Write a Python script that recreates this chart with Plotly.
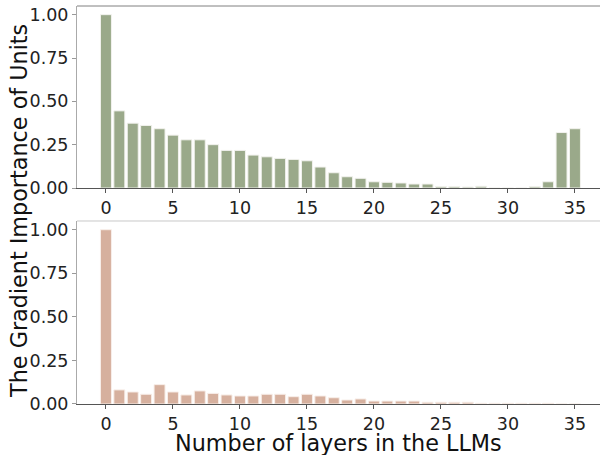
import plotly.graph_objects as go
from plotly.subplots import make_subplots

layers = list(range(36))
top_values = [1.0, 0.445, 0.374, 0.361, 0.342, 0.305, 0.278, 0.278, 0.25, 0.217,
              0.217, 0.19, 0.18, 0.171, 0.165, 0.157, 0.121, 0.088, 0.065, 0.056,
              0.036, 0.033, 0.029, 0.023, 0.023, 0.008, 0.008, 0.006, 0.01, 0.0,
              0.0, 0.0, 0.008, 0.036, 0.32, 0.342]
bottom_values = [1.0, 0.081, 0.069, 0.056, 0.111, 0.069, 0.052, 0.075, 0.061, 0.052,
                 0.046, 0.046, 0.056, 0.056, 0.042, 0.056, 0.046, 0.036, 0.023, 0.029,
                 0.017, 0.017, 0.017, 0.017, 0.01, 0.01, 0.01, 0.01, 0.004, 0.004,
                 0.004, 0.004, 0.004, 0.004, 0.0, 0.0]
y_ticks = [0, 0.25, 0.5, 0.75, 1.0]
y_ticklabels = ["0.00", "0.25", "0.50", "0.75", "1.00"]
x_ticks = [0, 5, 10, 15, 20, 25, 30, 35]

green = "#9aa98a"
pink = "#d6b09e"
font = "DejaVu Sans"

fig = make_subplots(rows=2, cols=1, vertical_spacing=0.08)
fig.add_trace(go.Bar(x=layers, y=top_values, marker=dict(color=green, line=dict(color="#f2f2ee", width=1)),
                     width=0.82, showlegend=False), row=1, col=1)
fig.add_trace(go.Bar(x=layers, y=bottom_values, marker=dict(color=pink, line=dict(color="#f8efea", width=1)),
                     width=0.82, showlegend=False), row=2, col=1)

axis_x = dict(range=[-2.16, 36.87], tickvals=x_ticks, ticks="outside", ticklen=4, tickcolor="#555",
              showgrid=False, zeroline=False, showline=True, linecolor="#555", linewidth=1,
              tickfont=dict(family=font, size=17.5, color="#222"))
axis_y = dict(range=[0, 1.05], tickvals=y_ticks, ticktext=y_ticklabels, ticks="outside", ticklen=4,
              tickcolor="#999", showgrid=False, zeroline=False, showline=True, linecolor="#aaa",
              linewidth=1, tickfont=dict(family=font, size=17.5, color="#222"))

fig.update_layout(
    width=600, height=455,
    margin=dict(l=77, r=0, t=6, b=51),
    paper_bgcolor="white", plot_bgcolor="white",
    bargap=0.18,
    xaxis=dict(axis_x, domain=[0, 1]),
    xaxis2=dict(axis_x, domain=[0, 1]),
    yaxis=dict(axis_y, domain=[0.5427, 1.0]),
    yaxis2=dict(axis_y, domain=[0.0, 0.4598]),
    shapes=[
        dict(type="line", xref="x domain", yref="y domain", x0=0, x1=1, y0=1, y1=1,
             line=dict(color="#808080", width=1)),
        dict(type="line", xref="x2 domain", yref="y2 domain", x0=0, x1=1, y0=1, y1=1,
             line=dict(color="#c8c8c8", width=1)),
    ],
    annotations=[
        dict(text="The Gradient Importance of Units", xref="paper", yref="paper",
             x=-0.111, y=0.485, xanchor="center", yanchor="middle", textangle=-90,
             showarrow=False, font=dict(family=font, size=22.3, color="#111")),
        dict(text="Number of layers in the LLMs", xref="paper", yref="paper",
             x=0.5, y=-0.098, xanchor="center", yanchor="middle",
             showarrow=False, font=dict(family=font, size=22.3, color="#111")),
    ],
)

fig.write_html("out.html", config={"displayModeBar": False},
               post_script="document.body.style.margin='0';document.body.style.overflow='hidden';")
